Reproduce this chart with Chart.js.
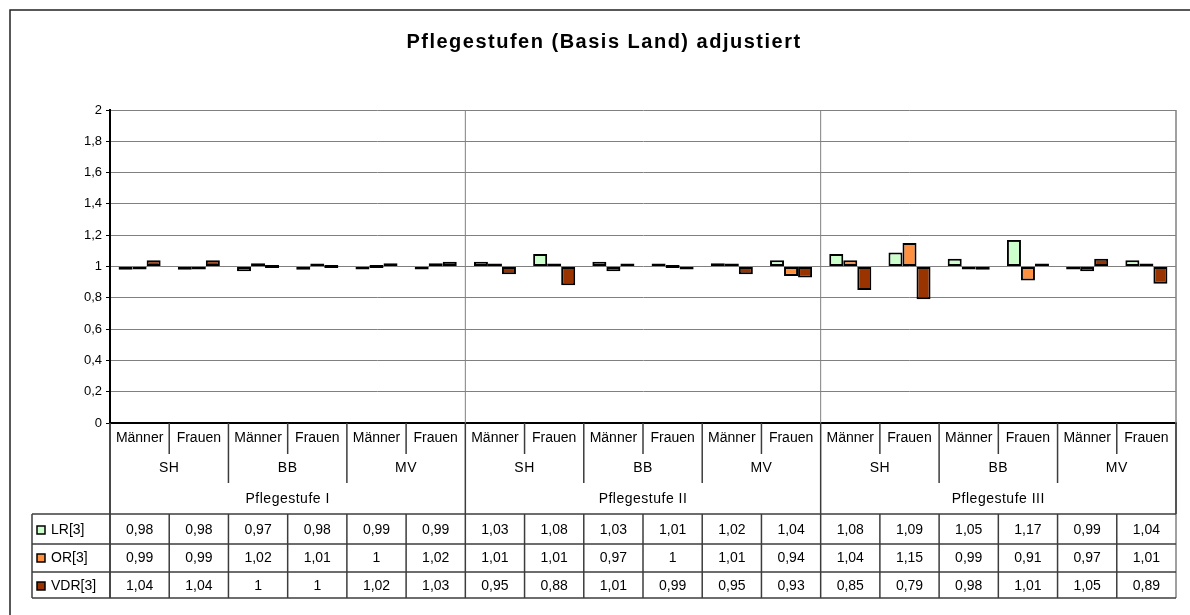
<!DOCTYPE html>
<html>
<head>
<meta charset="utf-8">
<script src="https://cdn.jsdelivr.net/npm/chart.js@4.4.1/dist/chart.umd.min.js"></script>
<style>
  html, body { margin: 0; padding: 0; background: #fff; }
  #wrap { position: relative; width: 1190px; height: 615px; }
</style>
</head>
<body>
<div id="wrap"><canvas id="chartPflege" width="1190" height="615"></canvas></div>
<script>
const titel = "Pflegestufen (Basis Land) adjustiert";
const geschlechter = ["Männer", "Frauen"];
const laender = ["SH", "BB", "MV"];
const stufen = ["Pflegestufe I", "Pflegestufe II", "Pflegestufe III"];
const serienNamen = ["LR[3]", "OR[3]", "VDR[3]"];

const werteLR = [0.98, 0.98, 0.97, 0.98, 0.99, 0.99, 1.03, 1.08, 1.03, 1.01, 1.02, 1.04, 1.08, 1.09, 1.05, 1.17, 0.99, 1.04];
const werteOR = [0.99, 0.99, 1.02, 1.01, 1, 1.02, 1.01, 1.01, 0.97, 1, 1.01, 0.94, 1.04, 1.15, 0.99, 0.91, 0.97, 1.01];
const werteVDR = [1.04, 1.04, 1, 1, 1.02, 1.03, 0.95, 0.88, 1.01, 0.99, 0.95, 0.93, 0.85, 0.79, 0.98, 1.01, 1.05, 0.89];

const yMin = 0;
const yMax = 2;
const yStep = 0.2;

const farben = ["#CCFFCC", "#FF9040", "#993300"];
const FONT = '"Liberation Sans", Arial, sans-serif';
const LINIE = "#3c3c3c";

// 18 Kategorien: Stufe > Land > Geschlecht
const labels = [];
stufen.forEach((s) => laender.forEach((l) => geschlechter.forEach((g) => labels.push(g))));
const serien = [werteLR, werteOR, werteVDR];

const fmt = (v) => String(Number(v.toFixed(2))).replace(".", ",");

const tabellePlugin = {
    id: "tabelle",
    beforeDatasetsDraw(chart) {
        const { ctx, chartArea: ca, scales: { x } } = chart;
        const w = (ca.right - ca.left) / labels.length;
        ctx.save();
        ctx.strokeStyle = "#808080";
        ctx.lineWidth = 1;
        const proStufe = laender.length * geschlechter.length;
        for (let s = 1; s < stufen.length; s++) {
            const px = x.getPixelForValue(s * proStufe) - w / 2;
            ctx.beginPath();
            ctx.moveTo(px, ca.top);
            ctx.lineTo(px, ca.bottom);
            ctx.stroke();
        }
        ctx.restore();
    },
    afterDraw(chart) {
        const { ctx, chartArea: ca, scales: { x } } = chart;
        const n = labels.length;
        const w = (ca.right - ca.left) / n;
        const kante = (i) => x.getPixelForValue(i) - w / 2;
        const mitte = (i) => x.getPixelForValue(i);
        const b = ca.bottom;

        const yGeschl = b + 15, ySep1 = b + 31;
        const yLand = b + 45, ySep2 = b + 60;
        const yStufe = b + 76;
        const zeilen = [b + 91, b + 121, b + 149, b + 175];
        const tabLinks = 32;

        ctx.save();
        // Titel
        ctx.fillStyle = "#000";
        ctx.font = "bold 20px " + FONT;
        ctx.textAlign = "center";
        ctx.textBaseline = "middle";
        ctx.letterSpacing = "1.5px";
        ctx.fillText(titel, 604, 42);
        ctx.letterSpacing = "0px";

        // Rahmen
        ctx.strokeStyle = "#222";
        ctx.lineWidth = 1.5;
        ctx.strokeRect(10, 10, 1300, 800);

        // rechte Kante
        ctx.strokeStyle = "#808080";
        ctx.lineWidth = 1.5;
        ctx.beginPath();
        ctx.moveTo(ca.right, ca.top);
        ctx.lineTo(ca.right, zeilen[3]);
        ctx.stroke();

        // Kategorie-Trenner
        ctx.strokeStyle = LINIE;
        ctx.lineWidth = 1.5;
        for (let i = 0; i <= n; i++) {
            const px = i === n ? ca.right : kante(i);
            let ende = ySep1;
            if (i % 2 === 0) ende = ySep2;
            if (i % 6 === 0) ende = zeilen[0];
            ctx.beginPath();
            ctx.moveTo(px, b);
            ctx.lineTo(px, ende);
            ctx.stroke();
        }

        // Achsentexte
        ctx.font = "14px " + FONT;
        ctx.fillStyle = "#000";
        ctx.textAlign = "center";
        labels.forEach((lab, i) => ctx.fillText(lab, mitte(i), yGeschl));
        ctx.letterSpacing = "0.5px";
        for (let j = 0; j < stufen.length * laender.length; j++) {
            const px = (kante(j * 2) + (j * 2 + 2 === n ? ca.right : kante(j * 2 + 2))) / 2;
            ctx.fillText(laender[j % laender.length], px, yLand);
        }
        stufen.forEach((s, k) => {
            const l = kante(k * 6);
            const r = k * 6 + 6 === n ? ca.right : kante(k * 6 + 6);
            ctx.fillText(s, (l + r) / 2, yStufe);
        });
        ctx.letterSpacing = "0px";

        // Datentabelle
        ctx.strokeStyle = LINIE;
        ctx.lineWidth = 1.5;
        zeilen.forEach((zy) => {
            ctx.beginPath();
            ctx.moveTo(tabLinks, zy);
            ctx.lineTo(ca.right, zy);
            ctx.stroke();
        });
        [tabLinks, ca.left].concat(labels.map((_, i) => kante(i)).slice(1)).forEach((px) => {
            ctx.beginPath();
            ctx.moveTo(px, zeilen[0]);
            ctx.lineTo(px, zeilen[3]);
            ctx.stroke();
        });
        ctx.beginPath();
        ctx.moveTo(ca.left, b);
        ctx.lineTo(ca.left, zeilen[3]);
        ctx.stroke();

        const textY = [b + 107, b + 135, b + 163];
        serien.forEach((werte, r) => {
            const ty = textY[r];
            ctx.fillStyle = farben[r];
            ctx.fillRect(37, ty - 4, 8, 8);
            ctx.strokeStyle = "#000";
            ctx.lineWidth = 1.5;
            ctx.strokeRect(37, ty - 4, 8, 8);
            ctx.fillStyle = "#000";
            ctx.textAlign = "left";
            ctx.fillText(serienNamen[r], 51, ty);
            ctx.textAlign = "center";
            werte.forEach((v, i) => ctx.fillText(fmt(v), mitte(i), ty));
        });
        ctx.restore();
    },
};

const dataset = (name, werte, farbe) => ({
    label: name,
    data: werte,
    base: 1,
    backgroundColor: farbe,
    borderColor: "#000",
    borderWidth: 2,
    borderSkipped: false,
    minBarLength: 3,
    categoryPercentage: 0.71,
    barPercentage: 1,
});

new Chart(document.getElementById("chartPflege").getContext("2d"), {
    type: "bar",
    data: {
        labels,
        datasets: [
            dataset(serienNamen[0], werteLR, farben[0]),
            dataset(serienNamen[1], werteOR, farben[1]),
            dataset(serienNamen[2], werteVDR, farben[2]),
        ],
    },
    options: {
        responsive: false,
        animation: false,
        layout: { padding: { left: 30, right: 14, top: 110, bottom: 0 } },
        plugins: {
            legend: { display: false },
            title: { display: false },
            tooltip: { enabled: false },
        },
        scales: {
            x: {
                ticks: { display: false },
                grid: { display: false, drawTicks: false },
                border: { display: true, color: "#000", width: 2 },
                afterFit(s) { s.height = 192; },
            },
            y: {
                min: yMin,
                max: yMax,
                ticks: {
                    stepSize: yStep,
                    color: "#000",
                    padding: 4,
                    font: { size: 13, family: FONT },
                    callback: (v) => fmt(v),
                },
                grid: { color: "#808080", lineWidth: 1, tickLength: 4, tickColor: "#000" },
                border: { color: "#000", width: 2 },
                afterFit(s) { s.width = 80; },
            },
        },
    },
    plugins: [tabellePlugin],
});
</script>
</body>
</html>
